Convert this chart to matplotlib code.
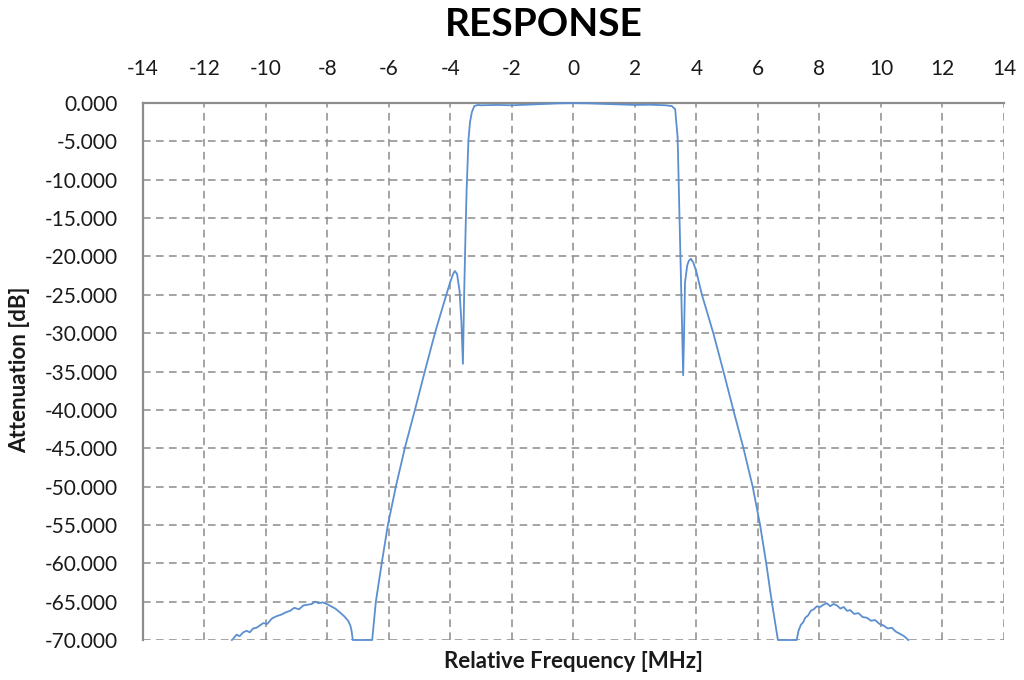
import matplotlib
matplotlib.use("Agg")
import matplotlib.pyplot as plt
from matplotlib.ticker import FormatStrFormatter, MultipleLocator

plt.rcParams['font.family'] = ['Lato', 'DejaVu Sans']
plt.rcParams['axes.unicode_minus'] = False

# response curve (MHz, dB)
lobe_left_x = [-11.10, -11.05, -10.95, -10.85, -10.73, -10.62, -10.52, -10.41, -10.30, -10.19,
               -10.08, -9.95, -9.80, -9.65, -9.50, -9.35, -9.21, -9.07, -8.92, -8.78,
               -8.64, -8.50, -8.40, -8.28, -8.15, -8.02, -7.88, -7.74, -7.59, -7.45,
               -7.32, -7.25, -7.21, -7.17, -7.00, -6.80]
lobe_left_y = [-70.0, -69.8, -69.3, -69.5, -69.0, -68.8, -69.0, -68.5, -68.4, -68.1,
               -67.8, -67.9, -67.2, -66.9, -66.7, -66.4, -66.2, -65.8, -66.0, -65.5,
               -65.4, -65.3, -65.0, -65.2, -65.1, -65.3, -65.6, -65.9, -66.4, -66.9,
               -67.5, -68.1, -68.8, -70.0, -70.0, -70.0]

skirt_left_x = [-6.54, -6.42, -6.23, -6.03, -5.77, -5.48, -5.15, -4.83, -4.50, -4.16,
                -4.00, -3.90, -3.85, -3.78, -3.70, -3.64, -3.59, -3.55, -3.50, -3.47,
                -3.41, -3.36, -3.30, -3.22, -3.10]
skirt_left_y = [-70.0, -65.0, -60.0, -55.0, -50.0, -45.0, -40.0, -35.0, -30.0, -25.4,
                -23.3, -22.2, -21.9, -22.3, -24.5, -28.5, -34.0, -25.0, -16.0, -11.4,
                -4.8, -2.5, -1.2, -0.4, -0.25]

passband_x = [-3.0, -2.5, -2.0, -1.5, -1.0, -0.5, 0.0, 0.5, 1.0, 1.5, 2.0, 2.5, 3.0, 3.2]
passband_y = [-0.30, -0.25, -0.30, -0.22, -0.15, -0.05, -0.02, -0.05, -0.12, -0.20, -0.25, -0.22, -0.30, -0.40]

skirt_right_x = [3.31, 3.39, 3.45, 3.51, 3.57, 3.60, 3.63, 3.70, 3.75, 3.82,
                 3.90, 4.00, 4.18, 4.55, 4.88, 5.20, 5.53, 5.83, 6.07, 6.27,
                 6.45, 6.65, 6.90, 7.10]
skirt_right_y = [-0.8, -4.5, -14.5, -25.0, -35.5, -30.0, -23.4, -21.2, -20.6, -20.3,
                 -20.8, -22.0, -25.0, -30.0, -35.0, -40.0, -45.0, -50.0, -55.0, -60.0,
                 -65.0, -70.0, -70.0, -70.0]

lobe_right_x = [7.26, 7.29, 7.32, 7.40, 7.47, 7.54, 7.63, 7.72, 7.81, 7.92,
                8.02, 8.13, 8.24, 8.35, 8.46, 8.57, 8.68, 8.79, 8.90, 9.00,
                9.13, 9.27, 9.40, 9.54, 9.68, 9.81, 9.95, 10.08, 10.22, 10.35,
                10.48, 10.62, 10.75, 10.89]
lobe_right_y = [-70.0, -69.4, -68.8, -68.0, -67.7, -67.1, -66.8, -66.2, -66.0, -65.6,
                -65.7, -65.4, -65.2, -65.6, -65.3, -65.5, -65.9, -65.7, -66.2, -66.1,
                -66.6, -66.5, -67.0, -67.1, -67.5, -67.4, -67.9, -68.1, -68.5, -68.4,
                -68.9, -69.2, -69.5, -70.0]

freq = lobe_left_x + skirt_left_x + passband_x + skirt_right_x + lobe_right_x
atten = lobe_left_y + skirt_left_y + passband_y + skirt_right_y + lobe_right_y

fig = plt.figure(figsize=(10.24, 6.8), dpi=100)
ax = fig.add_axes([142.7 / 1024, 40 / 680, (1004 - 142.7) / 1024, (640 - 103) / 680])

ax.plot(freq, atten, color='#5b8fd0', lw=1.3, clip_on=False, zorder=3)

ax.set_xlim(-14, 14)
ax.set_ylim(-70, 0)
ax.xaxis.set_major_locator(MultipleLocator(2))
ax.yaxis.set_major_locator(MultipleLocator(5))
ax.yaxis.set_major_formatter(FormatStrFormatter('%.3f'))
ax.xaxis.tick_top()
ax.tick_params(axis='x', length=0, pad=17, labelsize=15, labelcolor='#1a1a1a')
ax.tick_params(axis='y', length=0, pad=18, labelsize=15, labelcolor='#1a1a1a')

ax.grid(True, color='#8c8c8c', lw=1.1, linestyle=(0, (5, 3.5)))
for s in ['right', 'bottom']:
    ax.spines[s].set_visible(False)
for s in ['left', 'top']:
    ax.spines[s].set_color('#8c8c8c')
    ax.spines[s].set_linewidth(1.6)

fig.text(544 / 1024, 1 - 24 / 680, 'RESPONSE', ha='center', va='center',
         fontsize=28, fontweight='bold', color='black')
fig.text(573 / 1024, 1 - 662 / 680, 'Relative Frequency [MHz]', ha='center', va='center',
         fontsize=16, fontweight='bold', color='#1a1a1a')
fig.text(20 / 1024, 1 - 370 / 680, 'Attenuation [dB]', ha='center', va='center',
         rotation=90, fontsize=16, fontweight='bold', color='#1a1a1a')

fig.savefig('out.png', dpi=100)
